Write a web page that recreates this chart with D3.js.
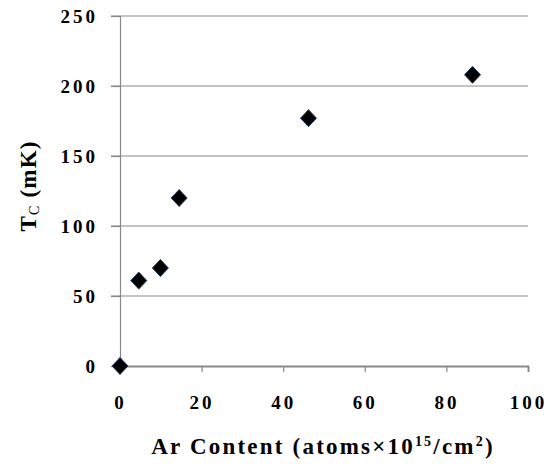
<!DOCTYPE html>
<html>
<head>
<meta charset="utf-8">
<script src="https://cdn.jsdelivr.net/npm/d3@7"></script>
<style>
  html, body { margin: 0; padding: 0; background: #fff; }
  svg { display: block; }
</style>
</head>
<body>
<svg id="chart" width="553" height="470"></svg>
<script>
// Ar content (atoms x 10^15 / cm^2) and measured transition temperature Tc (mK)
const arContent = [0, 4.6, 9.9, 14.5, 46.2, 86.4];
const tcValues  = [0, 61, 70, 120, 177, 208];
const xTicks = [0, 20, 40, 60, 80, 100];
const yTicks = [0, 50, 100, 150, 200, 250];

const FONT = "Liberation Serif";
const svg = d3.select("#chart");
const plotLeft = 120, plotRight = 528, plotTop = 16, plotBottom = 366;

const x = d3.scaleLinear().domain([0, 100]).range([plotLeft, plotRight]);
const y = d3.scaleLinear().domain([0, 250]).range([plotBottom, plotTop]);

// horizontal gridlines
svg.append("g")
  .selectAll("line")
  .data(yTicks.filter(d => d > 0))
  .join("line")
  .attr("x1", plotLeft - 9).attr("x2", plotRight)
  .attr("y1", d => y(d)).attr("y2", d => y(d))
  .attr("stroke", "#888").attr("stroke-width", 1.2);

function styleTickText(sel) {
  sel.style("font-family", FONT).style("font-weight", "bold")
     .style("font-size", "19px").style("letter-spacing", "3px")
     .attr("fill", "#000");
}

// y axis
const yAxis = svg.append("g")
  .attr("transform", `translate(${plotLeft},0)`)
  .call(d3.axisLeft(y).tickValues(yTicks).tickSize(9).tickPadding(13).tickFormat(d3.format("d")));
yAxis.select(".domain").attr("stroke", "#888").attr("stroke-width", 1.2);
yAxis.selectAll(".tick line").attr("stroke", "#888").attr("stroke-width", 1.2);
yAxis.selectAll(".tick text").call(styleTickText);

// x axis
const xAxis = svg.append("g")
  .attr("transform", `translate(0,${plotBottom})`)
  .call(d3.axisBottom(x).tickValues(xTicks).tickSize(6).tickPadding(24).tickFormat(d3.format("d")));
xAxis.select(".domain").attr("stroke", "#888").attr("stroke-width", 1.8);
xAxis.selectAll(".tick line").attr("stroke", "#888").attr("stroke-width", 1.2);
xAxis.selectAll(".tick text").call(styleTickText);

// data markers (diamonds)
const diamond = "M0,-8.5 L8,0 L0,8.5 L-8,0 Z";
svg.append("g")
  .selectAll("path")
  .data(arContent.map((v, i) => [v, tcValues[i]]))
  .join("path")
  .attr("d", diamond)
  .attr("transform", d => `translate(${x(d[0])},${y(d[1])})`)
  .attr("fill", "#000")
  .attr("stroke", "#1f3a66")
  .attr("stroke-width", 1)
  .attr("stroke-linejoin", "round");

// axis titles
const yTitle = svg.append("text")
  .attr("transform", "translate(36,186) rotate(-90)")
  .attr("text-anchor", "middle")
  .style("font-family", FONT).style("font-weight", "bold").style("font-size", "23px")
  .style("letter-spacing", "1.2px");
yTitle.append("tspan").text("T");
yTitle.append("tspan").style("font-size", "14px").style("font-weight", "normal").attr("dy", 3).text("C");
yTitle.append("tspan").attr("dy", -3).text(" (mK)");

const xTitle = svg.append("text")
  .attr("x", 323).attr("y", 454)
  .attr("text-anchor", "middle")
  .style("font-family", FONT).style("font-weight", "bold").style("font-size", "23px")
  .style("letter-spacing", "2.2px");
xTitle.append("tspan").text("Ar Content (atoms×10");
xTitle.append("tspan").style("font-size", "14px").attr("dy", -8).text("15");
xTitle.append("tspan").attr("dy", 8).text("/cm");
xTitle.append("tspan").style("font-size", "14px").attr("dy", -8).text("2");
xTitle.append("tspan").attr("dy", 8).text(")");
</script>
</body>
</html>
